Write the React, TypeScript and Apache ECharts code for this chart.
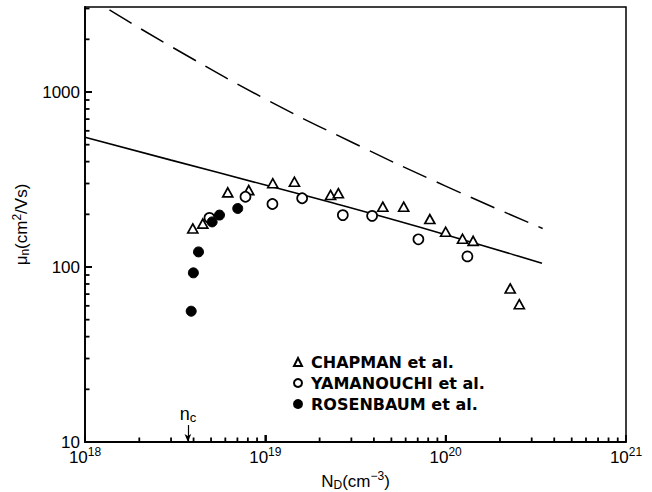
import React, { useEffect, useRef } from "react";
import * as echarts from "echarts";

// ---- data ----
const chapmanX = [3.96e18, 4.5e18, 6.19e18, 8.09e18, 1.1e19, 1.45e19, 2.3e19, 2.54e19, 4.48e19, 5.85e19, 8.17e19, 1.0e20, 1.24e20, 1.42e20, 2.28e20, 2.56e20];
const chapmanY = [166, 177, 267, 275, 301, 307, 258, 264, 221, 221, 188, 159, 145, 141, 75.4, 61.3];

const yamanouchiX = [4.9e18, 7.76e18, 1.095e19, 1.6e19, 2.69e19, 3.91e19, 7.06e19, 1.32e20];
const yamanouchiY = [191, 252, 229, 247, 198, 196, 144, 115];

const rosenbaumX = [3.88e18, 3.99e18, 4.26e18, 5.07e18, 5.57e18, 7.03e18];
const rosenbaumY = [55.9, 92.6, 122, 181, 198, 216];

const solidX = [1e18, 3e18, 1e19, 2.27e19, 1e20, 3.42e20];
const solidY = [551, 408, 294, 235, 153, 105];

const dashedX = [1.367e18, 3e18, 1e19, 3e19, 1e20, 3.45e20];
const dashedY = [2945, 1820, 912, 518, 290, 166];

const ncX = 3.72e18;
const ncArrowTop = 12.5;

const xMin = 1e18;
const xMax = 1e21;
const yMin = 10;
const yMax = 3060;

// tick positions (axis values)
const xMajorTicks = [1e19, 1e20];
const yMajorTicks = [100, 1000];
const xMinorTicks = [
  2e18, 3e18, 4e18, 5e18, 6e18, 7e18, 8e18, 9e18,
  2e19, 3e19, 4e19, 5e19, 6e19, 7e19, 8e19, 9e19,
  2e20, 3e20, 4e20, 5e20, 6e20, 7e20, 8e20, 9e20,
];
const yMinorTicks = [20, 30, 40, 50, 60, 70, 80, 90, 200, 300, 400, 500, 600, 700, 800, 900, 2000, 3000];

const legendNames = ["CHAPMAN et al.", "YAMANOUCHI et al.", "ROSENBAUM et al."];

const FONT = "Liberation Sans, Arial, sans-serif";

function zip(xs: number[], ys: number[]) {
  return xs.map((x, i) => [x, ys[i]]);
}

export default function App() {
  const ref = useRef<HTMLDivElement>(null);

  useEffect(() => {
    if (!ref.current) return;
    const chart = echarts.init(ref.current, undefined, { renderer: "svg" });

    const markerStyle = {
      color: "#fff",
      borderColor: "#000",
      borderWidth: 1.7,
      opacity: 1,
    };

    const nameRich = {
      a: { fontFamily: FONT, fontSize: 17, color: "#000" },
      sub: { fontFamily: FONT, fontSize: 12, color: "#000", padding: [7, 0, 0, 0] },
      sup: { fontFamily: FONT, fontSize: 12, color: "#000", padding: [0, 0, 10, 0] },
    };

    const option: any = {
      animation: false,
      backgroundColor: "#fff",
      grid: {
        left: 85,
        right: 26,
        top: 7,
        bottom: 50,
        show: true,
        borderColor: "#000",
        borderWidth: 1.5,
        backgroundColor: "transparent",
        containLabel: false,
        outerBoundsMode: "none",
      },
      legend: {
        data: legendNames,
        orient: "vertical",
        left: 288,
        top: 349,
        itemWidth: 8,
        itemHeight: 8,
        itemGap: 5,
        selectedMode: false,
        textStyle: {
          fontFamily: "DejaVu Sans",
          fontWeight: "bold",
          fontSize: 16,
          lineHeight: 16,
          color: "#000",
          padding: [0, 0, 0, 4],
        },
      },
      xAxis: {
        type: "log",
        logBase: 10,
        min: xMin,
        max: xMax,
        name: "{a|N}{sub|D}{a|(cm}{sup|−3}{a|)}",
        nameLocation: "middle",
        nameGap: 28,
        nameTextStyle: { color: "#000", rich: nameRich },
        axisLine: { show: true, lineStyle: { color: "#000", width: 1.8 } },
        axisTick: { show: true, inside: true, length: 7, lineStyle: { color: "#000", width: 1.8 } },
        splitLine: { show: false },
        axisLabel: {
          margin: 4,
          formatter: (v: number) => `{b|10}{s|${Math.round(Math.log10(v))}}`,
          rich: {
            b: { fontFamily: FONT, fontSize: 17, color: "#000" },
            s: { fontFamily: FONT, fontSize: 12, color: "#000", padding: [0, 0, 10, 0] },
          },
        },
      },
      yAxis: {
        type: "log",
        logBase: 10,
        min: yMin,
        max: yMax,
        name: "{a|μ}{sub|n}{a|(cm}{sup|2}{a|/Vs)}",
        nameLocation: "middle",
        nameGap: 47,
        nameRotate: 90,
        nameTextStyle: { color: "#000", rich: nameRich },
        axisLine: { show: true, lineStyle: { color: "#000", width: 1.8 } },
        axisTick: { show: true, inside: true, length: 7, lineStyle: { color: "#000", width: 1.8 } },
        splitLine: { show: false },
        axisLabel: {
          margin: 5,
          showMaxLabel: false,
          fontFamily: FONT,
          fontSize: 17,
          color: "#000",
          formatter: (v: number) => String(Math.round(v)),
        },
      },
      series: [
        {
          name: "theory-dashed",
          type: "line",
          data: zip(dashedX, dashedY),
          smooth: true,
          showSymbol: false,
          symbol: "none",
          silent: true,
          lineStyle: { color: "#000", width: 1.5, type: [26, 11] },
          z: 2,
        },
        {
          name: "theory-solid",
          type: "line",
          data: zip(solidX, solidY),
          smooth: true,
          showSymbol: false,
          symbol: "none",
          silent: true,
          lineStyle: { color: "#000", width: 1.6 },
          z: 2,
          markLine: {
            silent: true,
            symbol: ["none", "arrow"],
            symbolSize: [5, 8],
            lineStyle: { color: "#000", width: 1.2, type: "solid" },
            label: {
              show: true,
              position: "start",
              distance: 1,
              formatter: "{n|n}{c|c}",
              rich: {
                n: { fontFamily: FONT, fontSize: 18, color: "#000" },
                c: { fontFamily: FONT, fontSize: 13, color: "#000", padding: [8, 0, 0, 0] },
              },
            },
            data: [[{ coord: [ncX, ncArrowTop] }, { coord: [ncX, yMin] }]],
          },
        },
        {
          name: legendNames[0],
          type: "scatter",
          symbol: "triangle",
          symbolSize: [10, 9],
          data: zip(chapmanX, chapmanY),
          itemStyle: markerStyle,
          z: 3,
        },
        {
          name: legendNames[1],
          type: "scatter",
          symbol: "circle",
          symbolSize: 10,
          data: zip(yamanouchiX, yamanouchiY),
          itemStyle: markerStyle,
          z: 3,
        },
        {
          name: legendNames[2],
          type: "scatter",
          symbol: "circle",
          symbolSize: 10,
          data: zip(rosenbaumX, rosenbaumY),
          itemStyle: { color: "#000", borderColor: "#000", borderWidth: 1, opacity: 1 },
          z: 4,
        },
      ],
    };

    chart.setOption(option);

    // tick marks placed through the chart's own axis scales
    const ticks: any[] = [];
    const addX = (v: number, len: number) => {
      const p = chart.convertToPixel({ xAxisIndex: 0, yAxisIndex: 0 } as any, [v, yMin]) as number[];
      if (!p || !isFinite(p[0]) || !isFinite(p[1])) return;
      ticks.push({
        type: "line",
        silent: true,
        z: 50,
        shape: { x1: p[0], y1: p[1], x2: p[0], y2: p[1] - len },
        style: { stroke: "#000", lineWidth: 1.8 },
      });
    };
    const addY = (v: number, len: number) => {
      const p = chart.convertToPixel({ xAxisIndex: 0, yAxisIndex: 0 } as any, [xMin, v]) as number[];
      if (!p || !isFinite(p[0]) || !isFinite(p[1])) return;
      ticks.push({
        type: "line",
        silent: true,
        z: 50,
        shape: { x1: p[0], y1: p[1], x2: p[0] + len, y2: p[1] },
        style: { stroke: "#000", lineWidth: 1.8 },
      });
    };
    xMinorTicks.forEach((v) => addX(v, 4.5));
    xMajorTicks.forEach((v) => addX(v, 7));
    yMinorTicks.forEach((v) => addY(v, 4.5));
    yMajorTicks.forEach((v) => addY(v, 7));
    chart.setOption({ graphic: ticks });

    return () => chart.dispose();
  }, []);

  return (
    <div
      ref={ref}
      style={{ position: "fixed", left: 0, top: 0, width: 652, height: 492, background: "#fff" }}
    />
  );
}
